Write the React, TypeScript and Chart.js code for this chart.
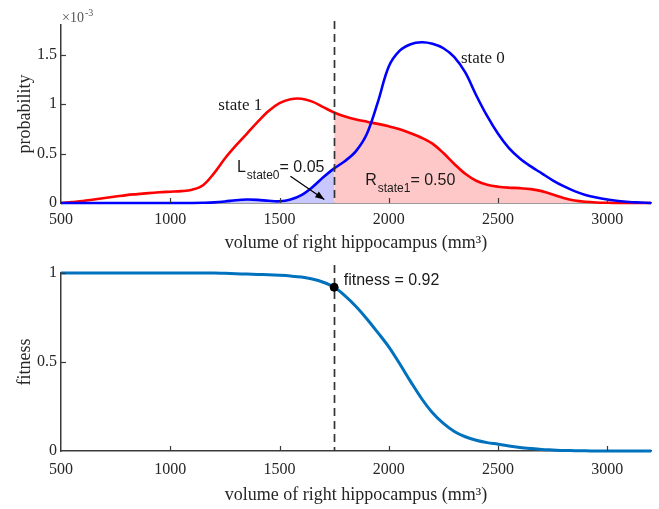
import React, { useEffect, useRef } from "react";
import { Chart, registerables } from "chart.js";
Chart.register(...registerables);

// ---------------- data ----------------
const X_VALUES = [
  500, 550, 600, 650, 700, 750, 800, 850, 900, 950,
  1000, 1050, 1100, 1150, 1200, 1250, 1300, 1350, 1400, 1450,
  1500, 1550, 1600, 1650, 1700, 1750, 1800, 1850, 1900, 1950,
  2000, 2050, 2100, 2150, 2200, 2250, 2300, 2350, 2400, 2450,
  2500, 2550, 2600, 2650, 2700, 2750, 2800, 2850, 2900, 2950,
  3000, 3050, 3100, 3150, 3200,
];

// probability, in units of 1e-3
const STATE1 = [
  0.0, 0.01, 0.02, 0.035, 0.05, 0.065, 0.08, 0.09, 0.1, 0.108,
  0.114, 0.12, 0.135, 0.18, 0.3, 0.45, 0.58, 0.7, 0.82, 0.93,
  1.01, 1.05, 1.055, 1.025, 0.97, 0.915, 0.875, 0.845, 0.822, 0.8,
  0.775, 0.745, 0.705, 0.66, 0.6, 0.505, 0.395, 0.295, 0.225, 0.185,
  0.165, 0.155, 0.15, 0.14, 0.12, 0.085, 0.05, 0.025, 0.012, 0.005,
  0.002, 0, 0, 0, 0,
];

const STATE0 = [
  0, 0, 0, 0, 0, 0, 0, 0, 0, 0,
  0, 0, 0, 0.002, 0.006, 0.015, 0.028, 0.035, 0.032, 0.022,
  0.017, 0.035, 0.08, 0.16, 0.26, 0.35, 0.425, 0.525, 0.7, 1.02,
  1.38, 1.54, 1.605, 1.625, 1.61, 1.565, 1.475, 1.32, 1.09, 0.88,
  0.7, 0.555, 0.45, 0.37, 0.3, 0.23, 0.17, 0.12, 0.082, 0.055,
  0.035, 0.02, 0.01, 0.005, 0,
];

const FITNESS = [
  1, 1, 1, 1, 1, 1, 1, 1, 1, 1,
  1, 1, 1, 1, 1, 0.998, 0.996, 0.994, 0.992, 0.99,
  0.987, 0.983, 0.977, 0.966, 0.948, 0.92, 0.872, 0.812, 0.742, 0.665,
  0.585, 0.49, 0.39, 0.295, 0.215, 0.155, 0.11, 0.08, 0.06, 0.047,
  0.038, 0.028, 0.02, 0.014, 0.009, 0.006, 0.003, 0.002, 0.001, 0,
  0, 0, 0, 0, 0,
];

const X_TICKS = [500, 1000, 1500, 2000, 2500, 3000];
const PROB_TICKS = [0, 0.5, 1, 1.5];
const FIT_TICKS = [0, 0.5, 1];
const THRESHOLD = 1750;
const FIT_AT_THRESHOLD = 0.92;
const L_STATE0 = "0.05";
const R_STATE1 = "0.50";

// ---------------- styles ----------------
const SERIF = '"Liberation Serif", "Times New Roman", serif';
const SANS = '"Liberation Sans", Arial, sans-serif';
const AXIS_COLOR = "#3a3a3a";
const TEXT_COLOR = "#262626";
const X_TITLE = "volume of right hippocampus (mm\u00B3)";
const TENSION = 0.35;

const pts = (ys: number[]) => X_VALUES.map((x, i) => ({ x, y: ys[i] }));
const part = (ys: number[], keep: (x: number) => boolean) =>
  X_VALUES.map((x, i) => ({ x, y: keep(x) ? ys[i] : null }));

const insideTicks = {
  id: "insideTicks",
  afterDraw(chart: any) {
    const { ctx, chartArea, scales } = chart;
    ctx.save();
    ctx.strokeStyle = AXIS_COLOR;
    ctx.lineWidth = 1.2;
    for (const t of scales.x.ticks) {
      const px = Math.round(scales.x.getPixelForValue(t.value)) + 0.5;
      if (Math.abs(px - chartArea.left) < 2) continue;
      ctx.beginPath();
      ctx.moveTo(px, chartArea.bottom);
      ctx.lineTo(px, chartArea.bottom - 5);
      ctx.stroke();
    }
    for (const t of scales.y.ticks) {
      const py = Math.round(scales.y.getPixelForValue(t.value)) + 0.5;
      if (Math.abs(py - chartArea.bottom) < 2) continue;
      ctx.beginPath();
      ctx.moveTo(chartArea.left, py);
      ctx.lineTo(chartArea.left + 5, py);
      ctx.stroke();
    }
    ctx.restore();
  },
};

function dashLine(chart: any, ext: number) {
  const { ctx, chartArea, scales } = chart;
  const px = Math.round(scales.x.getPixelForValue(THRESHOLD)) + 0.5;
  ctx.save();
  ctx.setLineDash([8, 5]);
  ctx.strokeStyle = "#333";
  ctx.lineWidth = 1.7;
  ctx.beginPath();
  ctx.moveTo(px, chartArea.top - ext);
  ctx.lineTo(px, chartArea.bottom);
  ctx.stroke();
  ctx.restore();
}

function subLabel(ctx: any, x: number, y: number, main: string, sub: string, rest: string) {
  ctx.textAlign = "left";
  ctx.textBaseline = "alphabetic";
  ctx.fillStyle = "#1a1a1a";
  ctx.font = `16px ${SANS}`;
  ctx.fillText(main, x, y);
  let w = ctx.measureText(main).width + 1;
  ctx.font = `12px ${SANS}`;
  ctx.fillText(sub, x + w, y + 7);
  w += ctx.measureText(sub).width;
  ctx.font = `16px ${SANS}`;
  ctx.fillText(rest, x + w, y);
}

const topAnnotations = {
  id: "topAnnotations",
  afterDatasetsDraw(chart: any) {
    const { ctx, chartArea, scales } = chart;
    const X = (v: number) => scales.x.getPixelForValue(v);
    const Y = (v: number) => scales.y.getPixelForValue(v);
    dashLine(chart, 4);
    ctx.save();
    // curve labels
    ctx.fillStyle = "#1a1a1a";
    ctx.font = `17px ${SERIF}`;
    ctx.textAlign = "left";
    ctx.textBaseline = "middle";
    ctx.fillText("state 1", X(1220), Y(0.99));
    ctx.fillText("state 0", X(2330), Y(1.46));
    // area labels
    subLabel(ctx, X(1305), Y(0.31), "L", "state0", "= " + L_STATE0);
    subLabel(ctx, X(1892), Y(0.18), "R", "state1", "= " + R_STATE1);
    // arrow
    const x1 = X(1550), y1 = Y(0.27), x2 = X(1705), y2 = Y(0.035);
    ctx.strokeStyle = "#000";
    ctx.fillStyle = "#000";
    ctx.lineWidth = 1.3;
    ctx.beginPath();
    ctx.moveTo(x1, y1);
    ctx.lineTo(x2, y2);
    ctx.stroke();
    const a = Math.atan2(y2 - y1, x2 - x1);
    const L = 9, W = 3.5;
    ctx.beginPath();
    ctx.moveTo(x2, y2);
    ctx.lineTo(x2 - L * Math.cos(a) + W * Math.sin(a), y2 - L * Math.sin(a) - W * Math.cos(a));
    ctx.lineTo(x2 - L * Math.cos(a) - W * Math.sin(a), y2 - L * Math.sin(a) + W * Math.cos(a));
    ctx.closePath();
    ctx.fill();
    // exponent label
    ctx.fillStyle = "#555";
    ctx.textBaseline = "alphabetic";
    ctx.font = `14px ${SERIF}`;
    const ex = chartArea.left + 1, ey = chartArea.top - 3;
    ctx.fillText("\u00D710", ex, ey);
    const w = ctx.measureText("\u00D710").width;
    ctx.font = `10px ${SERIF}`;
    ctx.fillText("-3", ex + w + 1, ey - 6);
    ctx.restore();
  },
};

const bottomAnnotations = {
  id: "bottomAnnotations",
  beforeDatasetsDraw(chart: any) {
    dashLine(chart, 8);
  },
  afterDatasetsDraw(chart: any) {
    const { ctx, scales } = chart;
    ctx.save();
    ctx.fillStyle = "#1a1a1a";
    ctx.font = `16px ${SANS}`;
    ctx.textAlign = "left";
    ctx.textBaseline = "middle";
    ctx.fillText(
      "fitness = " + FIT_AT_THRESHOLD.toFixed(2),
      scales.x.getPixelForValue(1794),
      scales.y.getPixelForValue(0.955)
    );
    ctx.restore();
  },
};

function xScale(height: number, titlePad: number, tickPad: number) {
  return {
    type: "linear" as const,
    position: "bottom" as const,
    min: 500,
    max: 3200,
    afterBuildTicks: (s: any) => {
      s.ticks = X_TICKS.map((v) => ({ value: v }));
    },
    afterFit: (s: any) => {
      s.height = height;
    },
    grid: { display: false, drawTicks: false },
    border: { display: true, color: AXIS_COLOR, width: 1.5 },
    ticks: {
      autoSkip: false,
      maxRotation: 0,
      padding: tickPad,
      color: TEXT_COLOR,
      font: { family: SERIF, size: 16 },
      callback: (v: any) => String(v),
    },
    title: {
      display: true,
      text: X_TITLE,
      color: TEXT_COLOR,
      font: { family: SERIF, size: 18 },
      padding: { top: 0, bottom: titlePad },
    },
  };
}

function yScale(max: number, ticks: number[], title: string) {
  return {
    type: "linear" as const,
    position: "left" as const,
    min: 0,
    max,
    afterBuildTicks: (s: any) => {
      s.ticks = ticks.map((v) => ({ value: v }));
    },
    afterFit: (s: any) => {
      s.width = 61;
    },
    grid: { display: false, drawTicks: false },
    border: { display: true, color: AXIS_COLOR, width: 1.5 },
    ticks: {
      padding: 4,
      color: TEXT_COLOR,
      font: { family: SERIF, size: 16 },
      callback: (v: any) => String(v),
    },
    title: {
      display: true,
      text: title,
      color: TEXT_COLOR,
      font: { family: SERIF, size: 18 },
      padding: { top: 14, bottom: 0 },
    },
  };
}

export default function App() {
  const topRef = useRef<HTMLCanvasElement>(null);
  const botRef = useRef<HTMLCanvasElement>(null);

  useEffect(() => {
    const common = {
      responsive: false,
      animation: false as const,
      devicePixelRatio: 1,
      plugins: { legend: { display: false }, tooltip: { enabled: false } },
      elements: { point: { radius: 0 }, line: { tension: TENSION } },
    };

    const top = new Chart(topRef.current!, {
      type: "line",
      data: {
        datasets: [
          {
            data: pts(STATE0),
            borderColor: "rgb(0,0,255)",
            borderWidth: 2.6,
            fill: false,
            clip: false as any,
          },
          {
            data: pts(STATE1),
            borderColor: "rgb(255,0,0)",
            borderWidth: 2.6,
            fill: false,
            clip: false as any,
          },
          {
            data: part(STATE0, (x) => x <= THRESHOLD),
            borderWidth: 0,
            borderColor: "rgba(0,0,0,0)",
            backgroundColor: "rgb(200,200,255)",
            fill: "origin",
          },
          {
            data: part(STATE1, (x) => x >= THRESHOLD),
            borderWidth: 0,
            borderColor: "rgba(0,0,0,0)",
            backgroundColor: "rgb(255,200,200)",
            fill: "origin",
          },
        ],
      },
      options: {
        ...common,
        layout: { padding: { top: 25, right: 8, left: 0, bottom: 0 } },
        scales: {
          x: xScale(52, 1, 7),
          y: yScale(1.8, PROB_TICKS, "probability"),
        },
      },
      plugins: [insideTicks, topAnnotations],
    } as any);

    const bot = new Chart(botRef.current!, {
      type: "line",
      data: {
        datasets: [
          {
            data: [{ x: THRESHOLD, y: FIT_AT_THRESHOLD }],
            showLine: false,
            pointRadius: 4,
            pointBackgroundColor: "#000",
            pointBorderColor: "#000",
            clip: false as any,
          },
          {
            data: pts(FITNESS),
            borderColor: "#0072BD",
            borderWidth: 3,
            fill: false,
            clip: false as any,
          },
        ],
      },
      options: {
        ...common,
        layout: { padding: { top: 18, right: 8, left: 0, bottom: 0 } },
        scales: {
          x: xScale(58, 3, 9),
          y: yScale(1, FIT_TICKS, "fitness"),
        },
      },
      plugins: [insideTicks, bottomAnnotations],
    } as any);

    return () => {
      top.destroy();
      bot.destroy();
    };
  }, []);

  return (
    <div
      style={{
        position: "absolute",
        left: 0,
        top: 0,
        width: 659,
        height: 509,
        background: "#fff",
      }}
    >
      <canvas
        ref={topRef}
        width={659}
        height={255}
        style={{ position: "absolute", left: 0, top: 0 }}
      />
      <canvas
        ref={botRef}
        width={659}
        height={254}
        style={{ position: "absolute", left: 0, top: 255 }}
      />
    </div>
  );
}
